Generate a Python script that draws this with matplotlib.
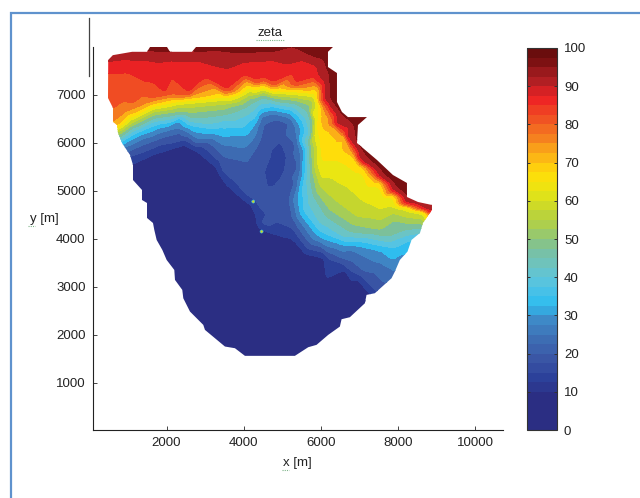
import numpy as np
import matplotlib
matplotlib.use("Agg")
import matplotlib.pyplot as plt
from matplotlib.colors import LinearSegmentedColormap, Normalize, BoundaryNorm
from matplotlib.cm import ScalarMappable
from matplotlib.lines import Line2D
from matplotlib.patches import Polygon, Rectangle
from matplotlib.tri import Triangulation, LinearTriInterpolator

plt.rcParams['font.family'] = ['Liberation Sans', 'DejaVu Sans']

# borde del dominio [m]
borde_x = [490, 610, 1110, 1495, 1573, 2013, 2090, 2660, 2764, 6312, 6183, 6183, 6416, 6416, 6545, 6700, 7193, 6960,
           6934, 7452, 7866, 8229, 8229, 8514, 8877, 8877, 8644, 8566, 8347, 8243, 8045, 7915, 7829, 7397, 7182, 7139,
           6750, 6535, 6491, 6189, 5887, 5672, 5326, 4032, 3773, 3514, 2996, 2953, 2608, 2435, 2409, 2220, 2202, 2004,
           1892, 1745, 1684, 1650, 1495, 1495, 1365, 1365, 1132, 1132, 1055, 847, 744, 718, 614, 614, 485]
borde_y = [7730, 7830, 7900, 7900, 8000, 8000, 7900, 7900, 8000, 8000, 7900, 7583, 7458, 6854, 6646, 6540, 6540, 6375,
           6000, 5646, 5333, 5167, 4875, 4771, 4708, 4604, 4333, 4125, 3980, 3737, 3563, 3320, 3182, 2870, 2835, 2661,
           2370, 2328, 2175, 2002, 1794, 1745, 1565, 1565, 1724, 1759, 2106, 2210, 2488, 2765, 2939, 3147, 3355, 3563,
           3772, 3980, 4188, 4333, 4438, 4750, 4813, 5021, 5229, 5542, 5750, 6000, 6208, 6375, 6437, 6729, 6937]

# isolineas de zeta
l95_x = [700, 1300, 1572, 2090, 2781, 3989, 4766, 5715, 6060, 6189, 6233, 6492, 6837, 6923, 7096, 7527, 7872, 8218, 8649, 8865]
l95_y = [7980, 7960, 7903, 7903, 7903, 7868, 7903, 7833, 7729, 7451, 6896, 6619, 6376, 5994, 5786, 5439, 5161, 4884, 4759, 4710]
l90_x = [494, 1098, 1486, 1745, 2090, 2781, 3557, 3989, 4766, 5542, 5887, 6103, 6103, 6405, 6664, 6966, 7096, 7527, 7872, 8218, 8649, 8865]
l90_y = [7694, 7729, 7729, 7694, 7729, 7729, 7556, 7694, 7729, 7729, 7625, 7278, 6896, 6410, 6168, 5716, 5612, 5300, 5022, 4745, 4641, 4571]
l85_x = [494, 968, 1443, 1961, 2608, 3557, 4334, 4507, 4766, 5370, 5974, 6060, 6345, 6621, 6923, 7096, 7527, 7872, 8218, 8649, 8865]
l85_y = [7486, 7486, 7278, 7049, 7035, 7104, 7278, 7347, 7243, 7229, 7229, 6862, 6424, 6168, 5740, 5578, 5265, 4988, 4724, 4620, 4537]
l80_x = [623, 1141, 1659, 2176, 2608, 3557, 4334, 4507, 4766, 5370, 5991, 6034, 6276, 6578, 6880, 7096, 7527, 7872, 8218, 8649, 8865]
l80_y = [6723, 6827, 6931, 7000, 7014, 7084, 7243, 7299, 7209, 7202, 7188, 6827, 6445, 6188, 5786, 5557, 5244, 4967, 4710, 4606, 4502]
l75_x = [623, 968, 1486, 2176, 2608, 3557, 4334, 4507, 4766, 5370, 5956, 6034, 6250, 6535, 6837, 7096, 7527, 7872, 8218, 8649, 8865]
l75_y = [6445, 6653, 6827, 6952, 6979, 7035, 7209, 7257, 7160, 7160, 7139, 6792, 6466, 6188, 5786, 5536, 5224, 4946, 4696, 4592, 4467]
l70_x = [753, 1141, 1659, 2176, 2608, 3557, 4334, 4507, 4766, 5370, 5931, 5991, 5887, 6060, 6578, 6837, 7096, 7527, 7872, 8218, 8649, 8822]
l70_y = [6376, 6619, 6827, 6910, 6931, 7000, 7174, 7229, 7125, 7118, 7104, 6792, 6549, 6306, 6147, 5751, 5508, 5196, 4925, 4682, 4578, 4433]
l65_x = [778, 1141, 1659, 2263, 2608, 3471, 4334, 4507, 4852, 5370, 5844, 5974, 5887, 5974, 6017, 6664, 7096, 7527, 7872, 8218, 8649, 8735]
l65_y = [6341, 6549, 6757, 6862, 6896, 6952, 7104, 7160, 7084, 7070, 7035, 6688, 6410, 6063, 5612, 5543, 5369, 5092, 4884, 4661, 4564, 4433]
l60_x = [796, 1141, 1659, 2263, 2608, 3471, 4334, 4507, 4852, 5370, 5819, 5905, 5819, 5887, 6017, 6664, 7096, 7527, 7872, 8218, 8649]
l60_y = [6306, 6500, 6702, 6806, 6827, 6896, 7056, 7104, 7035, 7000, 6966, 6549, 6133, 5647, 5265, 5092, 4780, 4606, 4675, 4606, 4537]
l55_x = [813, 1141, 1659, 2263, 2608, 3471, 4248, 4507, 4852, 5370, 5784, 5844, 5784, 5844, 5974, 6405, 6923, 7527, 7872, 8218, 8649]
l55_y = [6258, 6445, 6653, 6744, 6744, 6813, 7000, 7056, 6979, 6952, 6896, 6480, 5994, 5439, 5092, 4780, 4467, 4384, 4537, 4453, 4412]
l50_x = [830, 1141, 1659, 2263, 2608, 3471, 4161, 4507, 4852, 5370, 5715, 5801, 5732, 5784, 5887, 6233, 6837, 7527, 7872, 8218, 8649]
l50_y = [6202, 6376, 6584, 6653, 6633, 6702, 6931, 7014, 6931, 6882, 6792, 6480, 5994, 5369, 4988, 4606, 4294, 4190, 4384, 4328, 4294]
l45_x = [848, 1141, 1659, 2263, 2608, 3471, 4075, 4420, 4766, 5370, 5672, 5758, 5698, 5715, 5801, 6146, 6837, 7786, 8218, 8606]
l45_y = [6147, 6327, 6514, 6584, 6535, 6584, 6757, 6931, 6896, 6813, 6653, 6410, 5855, 5300, 4918, 4467, 4134, 4051, 4190, 4224]
l40_x = [865, 1141, 1659, 2263, 2608, 3471, 4075, 4377, 4722, 5283, 5611, 5715, 5654, 5629, 5672, 5974, 6578, 7786, 8563]
l40_y = [6098, 6258, 6445, 6535, 6445, 6480, 6584, 6792, 6841, 6757, 6514, 6202, 5716, 5231, 4884, 4328, 4051, 3947, 4120]
l35_x = [882, 1314, 1745, 2306, 2608, 3298, 3989, 4291, 4507, 4766, 5197, 5542, 5629, 5585, 5499, 5542, 5974, 6664, 7786, 8304]
l35_y = [6050, 6237, 6376, 6514, 6376, 6286, 6327, 6514, 6723, 6757, 6688, 6376, 5855, 5300, 4953, 4606, 4155, 3947, 3829, 3981]
l30_x = [899, 1314, 1831, 2306, 2608, 3298, 3903, 4248, 4420, 4766, 5197, 5456, 5559, 5499, 5413, 5456, 5887, 6578, 7613, 8131, 8300]
l30_y = [5994, 6168, 6327, 6480, 6306, 6188, 6168, 6341, 6619, 6688, 6619, 6341, 5786, 5231, 4884, 4571, 4086, 3877, 3739, 3702, 3650]
l25_x = [951, 1400, 1918, 2332, 2781, 3471, 4161, 4334, 4463, 4766, 5197, 5370, 5473, 5413, 5283, 5370, 5801, 6793, 7570, 7958]
l25_y = [5925, 6098, 6237, 6306, 6098, 5959, 5994, 6202, 6549, 6619, 6514, 6202, 5786, 5231, 4814, 4467, 3981, 3772, 3494, 3320]
l20_x = [1011, 1486, 1961, 2332, 2781, 3471, 4075, 4377, 4507, 4852, 5197, 5326, 5413, 5326, 5197, 5283, 5715, 6535, 7139, 7656]
l20_y = [5821, 5994, 6133, 6216, 5994, 5716, 5612, 5994, 6410, 6514, 6410, 5994, 5508, 5161, 4814, 4433, 3912, 3598, 3320, 3078]
l15_x = [1037, 1572, 2392, 2781, 3471, 4075, 4291, 4420, 4593, 5413, 6189, 6793, 7182, 7441]
l15_y = [5716, 5855, 6029, 5925, 5369, 4884, 4745, 4328, 4245, 4049, 3598, 3320, 3112, 2904]
hueco_x = [4938, 5111, 5060, 4938, 4636, 4550, 4722]
hueco_y = [6029, 5716, 5420, 5250, 5092, 5439, 5855]
l10_x = [1098, 1659, 2435, 2781, 3298, 3557, 4075, 4248, 4334, 4420, 4593, 5240, 6103, 6621, 6966, 7268]
l10_y = [5578, 5786, 5994, 5855, 5508, 5161, 4814, 4745, 4537, 4259, 4190, 4014, 3598, 3355, 3147, 2870]

# puntos sueltos dentro de las bandas
interior_x = [4809, 4900, 4850, 4720, 2500, 3000, 2500, 4000, 5000, 6000, 4000, 5500, 6800, 1500, 3000, 4000, 5300, 5800, 800, 1300, 1700,
              6050, 6350, 6400, 6000, 7000, 6400, 7100, 7600, 6500, 7400, 3900, 4300, 5000, 4700, 4800, 5150, 4600, 4900]
interior_y = [5543, 5800, 5450, 5280, 5000, 4000, 3000, 2000, 2500, 2500, 3500, 3500, 2800, 7500, 7400, 7450, 7480, 7400, 7000, 7080, 7045,
              6500, 6290, 5850, 5950, 5500, 5350, 5050, 4850, 4920, 4520, 5200, 5200, 4700, 4500, 4950, 5300, 5800, 6200]
interior_z = [12, 12, 12, 12, 2, 2, 2, 2, 2, 2, 2, 2, 2, 87, 87, 87, 87, 87, 83, 83, 83,
              72, 72, 67, 66, 67, 62, 62, 62, 57, 57, 17, 17, 17, 17, 17, 17, 17, 17]

# puntos fuera del borde, solo para cerrar la malla
fuera_x = [100, 100, 100, 200, 300, 400, 450, 500, 550, 600, 700, 800, 500, 100, 9500, 9500, 3000, 5000, 6800, 7600,
           8400, 9000, 9300, 9300, 9300, 9300, 9300, 9200, 9000, 8500, 8000, 7500]
fuera_y = [8500, 8200, 7690, 6700, 6400, 6300, 6200, 6100, 6000, 5850, 5700, 5500, 4000, 1000, 1000, 8500, 8300, 8300,
           7500, 6600, 5700, 5000, 4800, 4650, 4550, 4480, 4300, 4100, 3700, 3300, 2800, 2500]
fuera_z = [100, 92, 90, 80, 75, 70, 60, 50, 40, 30, 20, 10, 2, 2, 2, 100, 100, 100, 100, 100,
           100, 100, 100, 90, 70, 60, 50, 35, 28, 22, 12, 5]

# los dos puntos aislados
spot_x = [4248, 4463]
spot_y = [4780, 4155]
spot_z = [58, 58]

# escala de colores
valores_color = [0, 7.5, 12.5, 17.5, 22.5, 27.5, 32.5, 37.5, 42.5, 47.5, 52.5, 57.5, 62.5, 67.5, 72.5, 77.5, 82.5, 87.5,
                 92.5, 97.5, 100]
colores = ['#2b2e83', '#2b2e83', '#2c419a', '#3a55a5', '#3d6cb2', '#3f85c4', '#2fbdef', '#54c4e4', '#6cc4c4', '#7cc09a',
           '#a5cd57', '#c4d52f', '#e9e612', '#ffdd0a', '#fbb017', '#f47a20', '#f04e23', '#ee2224', '#ad1f23', '#7a1011',
           '#6a0d0d']

isolineas = [(95, l95_x, l95_y), (90, l90_x, l90_y), (85, l85_x, l85_y), (80, l80_x, l80_y), (75, l75_x, l75_y),
             (70, l70_x, l70_y), (65, l65_x, l65_y), (60, l60_x, l60_y), (55, l55_x, l55_y), (50, l50_x, l50_y),
             (45, l45_x, l45_y), (40, l40_x, l40_y), (35, l35_x, l35_y), (30, l30_x, l30_y), (25, l25_x, l25_y),
             (20, l20_x, l20_y), (15, l15_x, l15_y), (15, hueco_x, hueco_y), (10, l10_x, l10_y)]

px = interior_x + fuera_x
py = interior_y + fuera_y
pz = interior_z + fuera_z
for nivel, xs, ys in isolineas:
    px = px + xs
    py = py + ys
    pz = pz + [nivel] * len(xs)


def suavizar(z, ancho, pasadas):
    # media movil en las dos direcciones, para quitar los picos de los triangulos
    nucleo = np.ones(ancho) / ancho
    pad = ancho // 2
    for _ in range(pasadas):
        z = np.pad(z, pad, mode='edge')
        z = np.apply_along_axis(np.convolve, 0, z, nucleo, mode='valid')
        z = np.apply_along_axis(np.convolve, 1, z, nucleo, mode='valid')
    return z


tri = Triangulation(px, py)
xi, yi = np.meshgrid(np.arange(100, 9500, 20.0), np.arange(1000, 8500, 20.0))
zi = LinearTriInterpolator(tri, pz)(xi, yi)
zi = suavizar(np.ma.filled(zi, 2.0), 5, 2)

cmap = LinearSegmentedColormap.from_list('zeta', [(v / 100, c) for v, c in zip(valores_color, colores)], N=256)
norm = Normalize(0, 100)

fig = plt.figure(figsize=(6.4, 4.98), dpi=100)
W, H = 640, 498
ax = fig.add_axes([92.5 / W, (H - 430) / H, (503 - 92.5) / W, 383 / H])

cf = ax.contourf(xi, yi, zi, levels=np.arange(0, 101, 5), cmap=cmap, norm=norm, antialiased=False)
cf.set_clip_path(Polygon(np.column_stack([borde_x, borde_y]), closed=True, transform=ax.transData))
ax.scatter(spot_x, spot_y, c=spot_z, cmap=cmap, norm=norm, s=5, edgecolors='#2fbdef', linewidths=0.4, zorder=3)

ax.set_xlim(83, 10717)
ax.set_ylim(20, 8000)
ax.set_xticks([2000, 4000, 6000, 8000, 10000])
ax.set_yticks([1000, 2000, 3000, 4000, 5000, 6000, 7000])
ax.tick_params(direction='in', length=3, width=0.7, labelsize=9.5, labelcolor='#222222', color='#444444', pad=5)
ax.spines['top'].set_visible(False)
ax.spines['right'].set_visible(False)
ax.spines['left'].set_color('#222222')
ax.spines['bottom'].set_color('#222222')

fig.text(270 / W, 1 - 33 / H, 'zeta', ha='center', va='center', fontsize=9.5, color='#222222')
fig.text(297 / W, 1 - 463 / H, 'x [m]', ha='center', va='center', fontsize=9.5, color='#222222')
fig.text(44 / W, 1 - 219 / H, 'y [m]', ha='center', va='center', fontsize=9.5, color='#222222')

cax = fig.add_axes([527 / W, (H - 430) / H, 30 / W, 382 / H])
barra = ScalarMappable(norm=BoundaryNorm(np.arange(0, 100.1, 2.5), 256), cmap=cmap)
cb = fig.colorbar(barra, cax=cax, spacing='uniform', ticks=np.arange(0, 101, 10))
cb.ax.set_yticklabels([str(v) for v in range(0, 101, 10)])
cb.ax.minorticks_off()
cb.ax.tick_params(direction='in', length=2.5, width=0.7, labelsize=9.5, labelcolor='#222222', color='#333333', pad=5,
                  left=True, right=True)
cb.outline.set_edgecolor('#333333')
cb.outline.set_linewidth(0.8)

# marco azul y linea suelta de la captura
fig.add_artist(Rectangle((10.5 / W, -0.1), 1, 1 - 13 / H + 0.1, transform=fig.transFigure, fill=False,
                         edgecolor='#5f92cd', linewidth=1.6))
fig.add_artist(Line2D([88.5 / W, 88.5 / W], [1 - 18 / H, 1 - 76 / H], transform=fig.transFigure, color='#444444', linewidth=0.9))

# subrayado del corrector
for x0, x1, y0 in [(256, 284, 40), (282, 289, 470), (28, 35, 226)]:
    fig.add_artist(Line2D([x0 / W, x1 / W], [1 - y0 / H, 1 - y0 / H], transform=fig.transFigure, color='#7fb58a',
                          linewidth=0.8, linestyle=(0, (1, 1))))

fig.savefig('out.png', dpi=100)
